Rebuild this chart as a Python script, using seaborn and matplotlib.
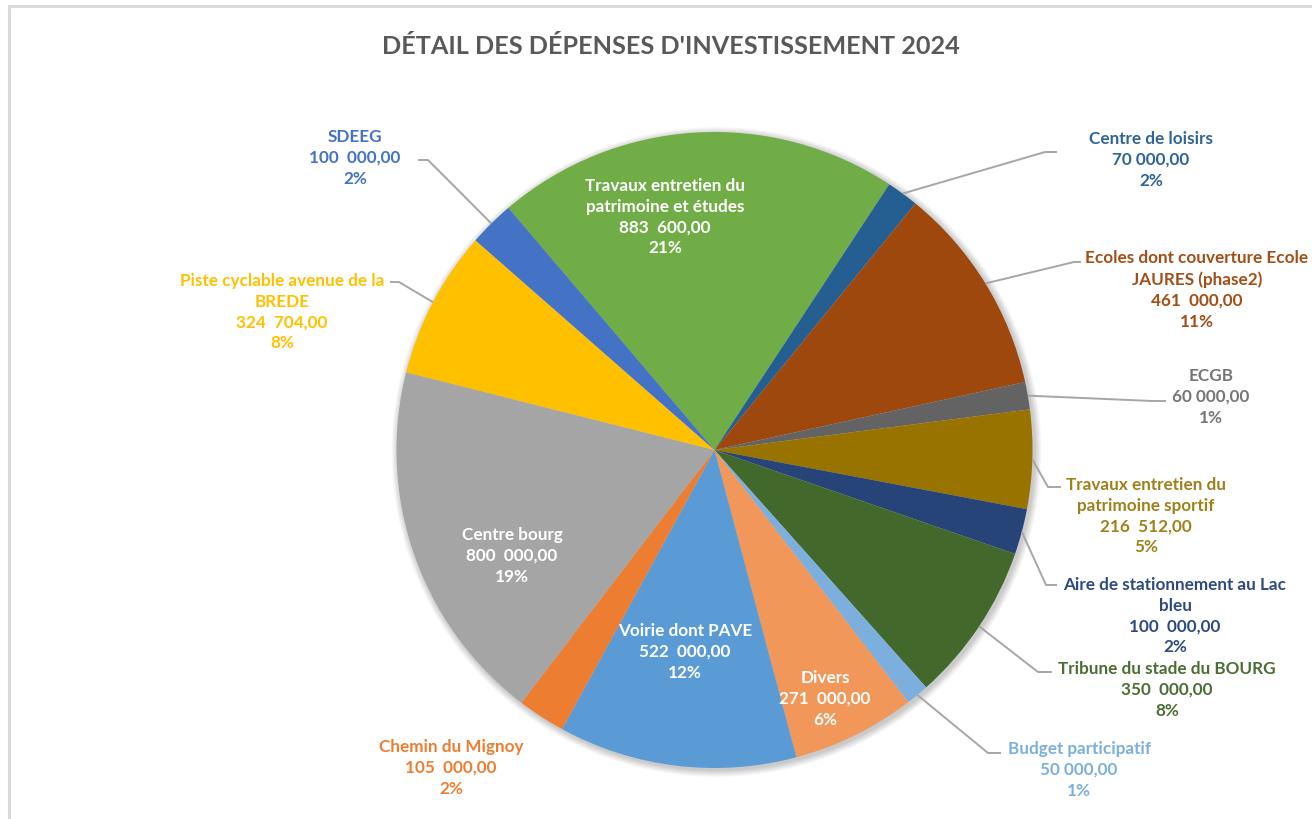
import matplotlib
matplotlib.use("Agg")
import numpy as np
import matplotlib.pyplot as plt
import seaborn as sns
from matplotlib.patches import Circle
from matplotlib.lines import Line2D

# Investment spending 2024, in euros (clockwise from the large green slice)
categories = [
    "Travaux entretien du\npatrimoine et études",
    "Centre de loisirs",
    "Ecoles dont couverture Ecole\nJAURES (phase2)",
    "ECGB",
    "Travaux entretien du\npatrimoine sportif",
    "Aire de stationnement au Lac\nbleu",
    "Tribune du stade du BOURG",
    "Budget participatif",
    "Divers",
    "Voirie dont PAVE",
    "Chemin du Mignoy",
    "Centre bourg",
    "Piste cyclable avenue de la\nBREDE",
    "SDEEG",
]
values = [883600, 70000, 461000, 60000, 216512, 100000, 350000,
          50000, 271000, 522000, 105000, 800000, 324704, 100000]
percent_labels = ["21%", "2%", "11%", "1%", "5%", "2%", "8%",
                  "1%", "6%", "12%", "2%", "19%", "8%", "2%"]

slice_colors = ["#70AD47", "#255E91", "#9E480E", "#636363", "#997300",
                "#264478", "#43682B", "#7CAFDD", "#F1975A", "#5B9BD5",
                "#ED7D31", "#A5A5A5", "#FFC000", "#4472C4"]
text_colors = ["white", "#2E6596", "#A24E17", "#767676", "#A0801A",
               "#2E4A7E", "#4A6E33", "#7CAFDD", "white", "white",
               "#ED7D31", "white", "#FFC000", "#4472C4"]

title = "DÉTAIL DES DÉPENSES D'INVESTISSEMENT 2024"

W, H = 1312, 819


def Y(py):
    return H - py


def fmt_amount(v):
    s = f"{v:,.2f}".replace(",", "\u00a0").replace(".", ",")
    if v >= 100000:
        s = s.replace("\u00a0", "\u00a0\u00a0", 1)
    return s


sns.set_theme(style="white")
plt.rcParams["font.family"] = ["Lato", "DejaVu Sans"]

fig = plt.figure(figsize=(W / 100, H / 100), dpi=100)
fig.patch.set_facecolor("white")
ax = fig.add_axes([0, 0, 1, 1])

cx, cy, R = 714.5, Y(450), 318

# soft drop shadow under the pie
for k in range(9):
    ax.add_patch(Circle((cx + 2, cy - 2), R + 7 - k * 0.8, facecolor="black",
                        edgecolor="none", alpha=0.022, zorder=0))

wedges, _ = ax.pie(values, colors=slice_colors, startangle=130.4,
                   counterclock=False, center=(cx, cy), radius=R,
                   wedgeprops=dict(linewidth=0))
ax.set_xlim(0, W)
ax.set_ylim(0, H)
ax.set_aspect("equal")
ax.axis("off")

# label layout: text centre (px) and optional leader elbow / end (px)
layout = {
    0: dict(pos=(665, 217)),
    1: dict(pos=(1151, 160), elbow=(1045, 152), end=(1057, 152)),
    2: dict(pos=(1197, 290), elbow=(1074, 262), end=(1081, 262)),
    3: dict(pos=(1211, 397), elbow=(1152, 401), end=(1166, 401)),
    4: dict(pos=(1146, 516), elbow=(1048, 487), end=(1061, 487)),
    5: dict(pos=(1175, 616), elbow=(1046, 585), end=(1057, 585)),
    6: dict(pos=(1167, 690), elbow=(1038, 672), end=(1052, 672)),
    7: dict(pos=(1079, 770), elbow=(988, 753), end=(1001, 753)),
    8: dict(pos=(825, 699)),
    9: dict(pos=(685, 652)),
    10: dict(pos=(451, 768)),
    11: dict(pos=(512, 556)),
    12: dict(pos=(282, 312), elbow=(399, 282), end=(390, 282)),
    13: dict(pos=(355, 158), elbow=(428, 160), end=(418, 160)),
}

for i, w in enumerate(wedges):
    lay = layout[i]
    txt = f"{categories[i]}\n{fmt_amount(values[i])}\n{percent_labels[i]}"
    px, py = lay["pos"]
    ax.text(px, Y(py), txt, ha="center", va="center", multialignment="center",
            fontsize=12.3, fontweight="bold", color=text_colors[i],
            linespacing=1.38, zorder=5)
    if "elbow" in lay:
        ang = np.deg2rad((w.theta1 + w.theta2) / 2)
        rx, ry = cx + R * np.cos(ang), cy + R * np.sin(ang)
        ex, ey = lay["elbow"]
        tx, ty = lay["end"]
        ax.add_line(Line2D([rx, ex, tx], [ry, Y(ey), Y(ty)], color="#A6A6A6",
                           lw=1.4, zorder=4, solid_capstyle="butt"))

fig.text(670.5 / W, 1 - 47 / H, title, ha="center", va="center",
         fontsize=18.2, fontweight="bold", color="#595959")

# chart-area border (left and top edges)
fig.add_artist(Line2D([9 / W, 9 / W], [0, 1 - 6 / H], color="#D9D9D9", lw=2.2,
                      transform=fig.transFigure))
fig.add_artist(Line2D([9 / W, 1], [1 - 6 / H, 1 - 6 / H], color="#D9D9D9",
                      lw=2.2, transform=fig.transFigure))

fig.savefig("out.png", dpi=100, facecolor="white")
